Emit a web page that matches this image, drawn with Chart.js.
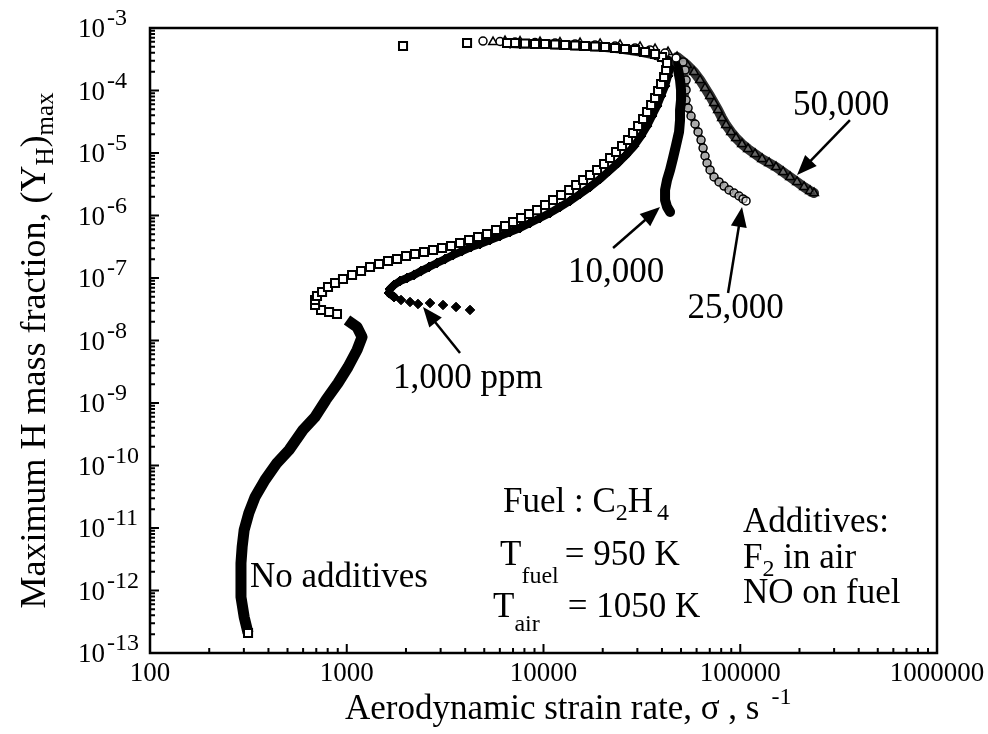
<!DOCTYPE html>
<html>
<head>
<meta charset="utf-8">
<style>
  html, body { margin: 0; padding: 0; background: #fff; }
  #wrap { width: 988px; height: 734px; }
</style>
<script src="https://cdn.jsdelivr.net/npm/chart.js@4.4.0/dist/chart.umd.min.js"></script>
</head>
<body>
<div id="wrap"><canvas id="chart" width="988" height="734"></canvas></div>
<script>
// axes
var xTickValues = [100, 1000, 10000, 100000, 1000000];
var xTickLabels = ['100', '1000', '10000', '100000', '1000000'];
var yTickExps = [-3, -4, -5, -6, -7, -8, -9, -10, -11, -12, -13];

// No additives, lower branch (dense band)
var noAddLowX = [315, 301, 290, 290, 290, 294, 301, 318, 342, 384, 442, 509, 599, 690, 784, 903, 1015, 1128, 1196, 1128, 1003];
var noAddLowY = [2.09e-13, 3.77e-13, 7.87e-13, 1.47e-12, 2.75e-12, 4.97e-12, 9.3e-12, 1.74e-11, 3.13e-11, 5.86e-11, 1.10e-10, 1.77e-10, 3.70e-10, 5.97e-10, 1.12e-9, 2.09e-9, 3.77e-9, 7.05e-9, 1.14e-8, 1.64e-8, 2.13e-8];

// No additives, middle and upper branch (open squares)
var noAddX = [892, 813, 740, 690, 690, 706, 749, 803, 872, 957, 1064, 1182, 1313, 1459, 1621, 1801, 2001, 2223, 2470,
  2745, 3050, 3388, 3765, 4183, 4648, 5164, 5737, 6375, 7003, 7690, 8444, 9273, 10180, 11180, 12280, 13490, 14640,
  15890, 17240, 18710, 20310, 21790, 23370, 25070, 26890, 28520, 30240, 32060, 33600, 35220, 36900, 38220, 39580,
  41000, 41970, 42460];
var noAddY = [2.65e-8, 2.86e-8, 3.08e-8, 3.70e-8, 4.45e-8, 5.15e-8, 5.97e-8, 7.18e-8, 8.32e-8, 9.64e-8, 1.12e-7, 1.29e-7,
  1.50e-7, 1.67e-7, 1.87e-7, 2.01e-7, 2.25e-7, 2.42e-7, 2.61e-7,
  2.81e-7, 3.02e-7, 3.25e-7, 3.63e-7, 4.06e-7, 4.53e-7, 5.06e-7, 5.86e-7, 6.79e-7, 7.87e-7, 9.12e-7, 1.06e-6, 1.22e-6,
  1.47e-6, 1.77e-6, 2.13e-6, 2.56e-6, 3.08e-6, 3.70e-6, 4.45e-6, 5.35e-6, 6.67e-6, 8.32e-6, 1.04e-5, 1.29e-5, 1.61e-5,
  2.09e-5, 2.70e-5, 3.50e-5, 4.53e-5, 5.86e-5, 7.59e-5, 9.82e-5, 1.27e-4, 1.64e-4, 2.13e-4, 2.75e-4];
var noAddTopX = [40050, 36900, 32830, 29200, 25970, 23100, 20550, 18280, 16260, 14470, 12870, 11450, 10180, 9056, 8055, 7166, 6524, 4087, 1932];
var noAddTopY = [3.44e-4, 3.84e-4, 4.13e-4, 4.45e-4, 4.61e-4, 4.79e-4, 4.97e-4, 5.06e-4, 5.15e-4, 5.25e-4, 5.35e-4, 5.45e-4, 5.55e-4, 5.55e-4, 5.65e-4, 5.75e-4, 5.75e-4, 5.75e-4, 5.15e-4];

// 1,000 ppm (filled diamonds)
var ppm1kTailX = [4232, 3593, 3085, 2650, 2303, 2097, 1887];
var ppm1kTailY = [3.08e-8, 3.44e-8, 3.70e-8, 3.98e-8, 3.84e-8, 4.13e-8, 4.45e-8];
var ppm1kX = [1739, 1640, 1659, 1739, 1866, 2025, 2197, 2385, 2619, 2876, 3159, 3469, 3854, 4282, 4757, 5348, 6013, 6761,
  7600, 8543, 9603, 10800, 12130, 13640, 15340, 17240, 19390, 21530, 23930, 26270, 28850, 31320, 33600, 35620, 37770,
  39580, 41480, 42960, 43980];
var ppm1kY = [4.97e-8, 5.75e-8, 6.67e-8, 7.73e-8, 8.95e-8, 1.0e-7, 1.12e-7, 1.29e-7, 1.50e-7, 1.74e-7, 2.01e-7, 2.33e-7,
  2.70e-7, 3.13e-7, 3.50e-7, 4.06e-7, 4.70e-7, 5.45e-7, 6.31e-7, 7.59e-7, 9.12e-7, 1.10e-6, 1.37e-6, 1.71e-6, 2.21e-6,
  2.86e-6, 3.84e-6, 5.15e-6, 6.92e-6, 9.29e-6, 1.29e-5, 1.87e-5, 2.70e-5, 3.91e-5, 5.65e-5, 8.17e-5, 1.18e-4, 1.71e-4, 2.29e-4];
var ppm1kTopX = [43980, 42960, 36900, 30950, 24490, 19390, 15340, 12130, 9603, 7600, 6761];
var ppm1kTopY = [2.29e-4, 3.08e-4, 3.70e-4, 4.13e-4, 4.61e-4, 4.97e-4, 5.15e-4, 5.35e-4, 5.55e-4, 5.55e-4, 5.65e-4];

// 10,000 ppm (solid)
var ppm10kX = [46080, 48290, 49430, 50010, 50010, 49430, 49430, 48860, 47180, 45540, 43980, 42460, 41480, 41480, 42460, 43980];
var ppm10kY = [2.86e-4, 2.13e-4, 1.47e-4, 1.02e-4, 7.05e-5, 4.88e-5, 3.37e-5, 2.17e-5, 1.34e-5, 8.32e-6, 5.35e-6, 3.70e-6, 2.56e-6, 1.77e-6, 1.37e-6, 1.14e-6];

// 25,000 ppm (open circles)
var ppm25kX = [51200, 52420, 53040, 53040, 53040, 54290, 56220, 58920, 61040, 63210, 64710, 66220, 67800, 70240, 73590, 78010, 82720, 87700, 93000, 98600, 103300, 107000];
var ppm25kY = [2.86e-4, 2.13e-4, 1.47e-4, 1.02e-4, 7.05e-5, 5.25e-5, 3.91e-5, 2.91e-5, 2.17e-5, 1.61e-5, 1.20e-5, 8.95e-6, 6.92e-6, 5.35e-6, 4.13e-6, 3.44e-6, 2.96e-6, 2.56e-6, 2.29e-6, 2.05e-6, 1.84e-6, 1.71e-6];
var ppm25kTopX = [47180, 41480, 34790, 29200, 23100, 18280, 14470, 11450, 9056, 7166, 6013, 4926];
var ppm25kTopY = [3.31e-4, 3.98e-4, 4.45e-4, 4.79e-4, 5.15e-4, 5.35e-4, 5.55e-4, 5.75e-4, 5.86e-4, 5.97e-4, 6.08e-4, 6.19e-4];

// 50,000 ppm (open triangles)
var ppm50kX = [47720, 53660, 58240, 62480, 66220, 70240, 73590, 77100, 80800, 84700, 89800, 95200, 102100, 109500, 118900, 129100, 140100, 152000, 165100, 179100, 194400, 211000, 226300, 237200];
var ppm50kY = [3.44e-4, 2.56e-4, 1.98e-4, 1.47e-4, 1.10e-4, 8.17e-5, 6.31e-5, 4.88e-5, 3.63e-5, 2.81e-5, 2.17e-5, 1.74e-5, 1.39e-5, 1.16e-5, 9.64e-6, 8.02e-6, 6.92e-6, 5.97e-6, 4.97e-6, 4.13e-6, 3.44e-6, 2.86e-6, 2.47e-6, 2.29e-6];
var ppm50kTopX = [42960, 36900, 30950, 24490, 19390, 15340, 12130, 9603, 7600, 6375, 5540];
var ppm50kTopY = [4.13e-4, 4.61e-4, 4.97e-4, 5.35e-4, 5.55e-4, 5.75e-4, 5.86e-4, 5.97e-4, 6.08e-4, 6.19e-4, 5.97e-4];

// annotations, in data units: [fromX, fromY, toX, toY]
var arrows = [
  [361000, 3.37e-5, 194400, 4.45e-6],
  [22570, 3.02e-7, 39110, 1.37e-6],
  [86700, 5.75e-8, 102100, 1.37e-6],
  [3765, 6.31e-9, 2442, 3.44e-8]
];

var FONT = '"Liberation Serif", "Times New Roman", serif';

function pts(xs, ys) {
  return xs.map(function (x, i) { return {x: x, y: ys[i]}; });
}

// draws runs of text: [text, size, dy, dx]
function rich(ctx, parts, x, y, align) {
  var w = 0;
  parts.forEach(function (p) {
    ctx.font = p[1] + 'px ' + FONT;
    w += ctx.measureText(p[0]).width + (p[3] || 0);
  });
  var cx = align === 'center' ? x - w / 2 : (align === 'right' ? x - w : x);
  ctx.textAlign = 'left';
  ctx.textBaseline = 'alphabetic';
  parts.forEach(function (p) {
    ctx.font = p[1] + 'px ' + FONT;
    cx += (p[3] || 0);
    ctx.fillText(p[0], cx, y + (p[2] || 0));
    cx += ctx.measureText(p[0]).width;
  });
}

function arrow(ctx, x1, y1, x2, y2) {
  var a = Math.atan2(y2 - y1, x2 - x1), hl = 20, hw = 8;
  var c = Math.cos(a), s = Math.sin(a);
  ctx.beginPath();
  ctx.moveTo(x1, y1);
  ctx.lineTo(x2 - c * hl * 0.8, y2 - s * hl * 0.8);
  ctx.stroke();
  ctx.beginPath();
  ctx.moveTo(x2, y2);
  ctx.lineTo(x2 - hl * c + hw * s, y2 - hl * s - hw * c);
  ctx.lineTo(x2 - hl * c - hw * s, y2 - hl * s + hw * c);
  ctx.closePath();
  ctx.fill();
}

var decor = {
  id: 'decor',
  afterDraw: function (chart) {
    var ctx = chart.ctx, a = chart.chartArea;
    var xs = chart.scales.x, ys = chart.scales.y;
    var X = function (v) { return xs.getPixelForValue(v); };
    var Y = function (v) { return ys.getPixelForValue(v); };
    ctx.save();
    ctx.fillStyle = '#000';
    ctx.strokeStyle = '#000';

    // frame
    ctx.lineWidth = 2.5;
    ctx.strokeRect(a.left, a.top, a.right - a.left, a.bottom - a.top);

    // ticks, pointing inward on the left and bottom axes
    ctx.lineWidth = 2;
    ctx.beginPath();
    var e, k, p;
    for (e = -13; e <= -3; e++) {
      p = Y(Math.pow(10, e));
      ctx.moveTo(a.left, p); ctx.lineTo(a.left + 9, p);
      if (e < -3) {
        for (k = 2; k <= 9; k++) {
          p = Y(k * Math.pow(10, e));
          ctx.moveTo(a.left, p); ctx.lineTo(a.left + 5, p);
        }
      }
    }
    for (e = 2; e <= 6; e++) {
      p = X(Math.pow(10, e));
      ctx.moveTo(p, a.bottom); ctx.lineTo(p, a.bottom - 9);
      if (e < 6) {
        for (k = 2; k <= 9; k++) {
          p = X(k * Math.pow(10, e));
          ctx.moveTo(p, a.bottom); ctx.lineTo(p, a.bottom - 5);
        }
      }
    }
    ctx.stroke();

    // tick labels
    ctx.font = '27px ' + FONT;
    ctx.textAlign = 'center';
    ctx.textBaseline = 'alphabetic';
    xTickValues.forEach(function (v, i) {
      ctx.fillText(xTickLabels[i], X(v), a.bottom + 28);
    });
    yTickExps.forEach(function (e) {
      var py = Y(Math.pow(10, e));
      rich(ctx, [['10', 27, 9], [String(e), 24, -3, 2]], 78, py, 'left');
    });

    // axis titles
    rich(ctx, [['Aerodynamic strain rate, \u03c3 , s', 35], ['-1', 24, -15, 12]], a.left + 195, a.bottom + 66, 'left');
    ctx.save();
    ctx.translate(45, (a.top + a.bottom) / 2 + 10);
    ctx.rotate(-Math.PI / 2);
    rich(ctx, [['Maximum H mass fraction, (Y', 36], ['H', 25, 8], [')', 36], ['max', 25, 8]], 0, 0, 'center');
    ctx.restore();

    // arrows
    ctx.lineWidth = 2.5;
    arrows.forEach(function (r) { arrow(ctx, X(r[0]), Y(r[1]), X(r[2]), Y(r[3])); });

    // labels
    rich(ctx, [['50,000', 35]], X(185400), Y(4.13e-5), 'left');
    rich(ctx, [['10,000', 35]], X(23370), Y(8.79e-8), 'center');
    rich(ctx, [['25,000', 35]], X(94600), Y(2.25e-8), 'center');
    rich(ctx, [['1,000 ppm', 35]], X(1719), Y(1.71e-9), 'left');
    rich(ctx, [['No additives', 35]], X(322), Y(1.14e-12), 'left');
    rich(ctx, [['Fuel : C', 35], ['2', 24, 8], ['H', 35], ['4', 24, 8, 4]], X(6228), Y(1.80e-11), 'left');
    rich(ctx, [['T', 35], ['fuel', 24, 18], ['= 950 K', 35, 0, 6]], X(6012), Y(2.56e-12), 'left');
    rich(ctx, [['T', 35], ['air', 24, 14], ['= 1050 K', 35, 0, 28]], X(5540), Y(3.77e-13), 'left');
    rich(ctx, [['Additives:', 35]], X(103300), Y(8.63e-12), 'left');
    rich(ctx, [['F', 35], ['2', 24, 8], [' in air', 35]], X(103300), Y(2.29e-12), 'left');
    rich(ctx, [['NO on fuel', 35]], X(103300), Y(6.31e-13), 'left');
    ctx.restore();
  }
};

var openSquare = {pointStyle: 'rect', pointRadius: 5.7, pointBorderWidth: 2, pointBorderColor: '#000', pointBackgroundColor: '#fff'};

function markers(data, style, order) {
  return Object.assign({data: data, showLine: false, order: order}, style);
}

new Chart(document.getElementById('chart'), {
  type: 'scatter',
  data: {
    datasets: [
      markers(pts(noAddX, noAddY), openSquare, 1),
      markers(pts(noAddTopX, noAddTopY), openSquare, 2),
      {data: pts(ppm1kTailX, ppm1kTailY), showLine: false, order: 3,
        pointStyle: 'rectRot', pointRadius: 4.8, pointBorderWidth: 1, pointBorderColor: '#000', pointBackgroundColor: '#000'},
      {data: pts(ppm1kX, ppm1kY), showLine: true, order: 4, borderColor: '#000', borderWidth: 8,
        borderCapStyle: 'round', borderJoinStyle: 'round',
        pointStyle: 'rectRot', pointRadius: 5, pointBorderWidth: 1, pointBorderColor: '#000', pointBackgroundColor: '#000'},
      {data: pts(ppm25kTopX, ppm25kTopY), showLine: false, order: 5,
        pointStyle: 'circle', pointRadius: 4, pointBorderWidth: 1.5, pointBorderColor: '#000', pointBackgroundColor: '#fff'},
      {data: pts(ppm50kTopX, ppm50kTopY), showLine: false, order: 6,
        pointStyle: 'triangle', pointRadius: 5, pointBorderWidth: 1.5, pointBorderColor: '#000', pointBackgroundColor: '#fff'},
      {data: pts(ppm1kTopX, ppm1kTopY), showLine: true, order: 7, borderColor: '#222', borderWidth: 9,
        borderCapStyle: 'round', borderJoinStyle: 'round',
        pointStyle: 'rectRot', pointRadius: 5, pointBorderWidth: 1, pointBorderColor: '#000', pointBackgroundColor: '#000'},
      {data: pts(ppm10kX, ppm10kY), showLine: true, order: 8, borderColor: '#000', borderWidth: 10,
        borderCapStyle: 'round', borderJoinStyle: 'round', pointRadius: 0},
      {data: pts(ppm25kX, ppm25kY), showLine: true, order: 9, borderColor: '#555', borderWidth: 6,
        pointStyle: 'circle', pointRadius: 4, pointBorderWidth: 1.5, pointBorderColor: '#000', pointBackgroundColor: 'rgba(255,255,255,0.5)'},
      {data: pts(ppm50kX, ppm50kY), showLine: true, order: 10, borderColor: '#333', borderWidth: 10,
        borderCapStyle: 'round', borderJoinStyle: 'round',
        pointStyle: 'triangle', pointRadius: 5, pointBorderWidth: 1.5, pointBorderColor: '#000', pointBackgroundColor: 'rgba(255,255,255,0.25)'},
      {data: pts(noAddLowX, noAddLowY), showLine: true, order: 11, borderColor: '#000', borderWidth: 11,
        borderCapStyle: 'butt', borderJoinStyle: 'round',
        pointStyle: 'rect', pointBorderWidth: 2, pointBorderColor: '#000', pointBackgroundColor: '#fff',
        pointRadius: function (c) { return c.dataIndex === 0 ? 5.7 : 0; }}
    ]
  },
  options: {
    responsive: false,
    animation: false,
    devicePixelRatio: 1,
    layout: {padding: {left: 150, right: 51, top: 28, bottom: 81}},
    plugins: {legend: {display: false}, tooltip: {enabled: false}},
    scales: {
      x: {type: 'logarithmic', min: 100, max: 1000000, display: false},
      y: {type: 'logarithmic', min: 1e-13, max: 1e-3, display: false}
    }
  },
  plugins: [decor]
});
</script>
</body>
</html>
